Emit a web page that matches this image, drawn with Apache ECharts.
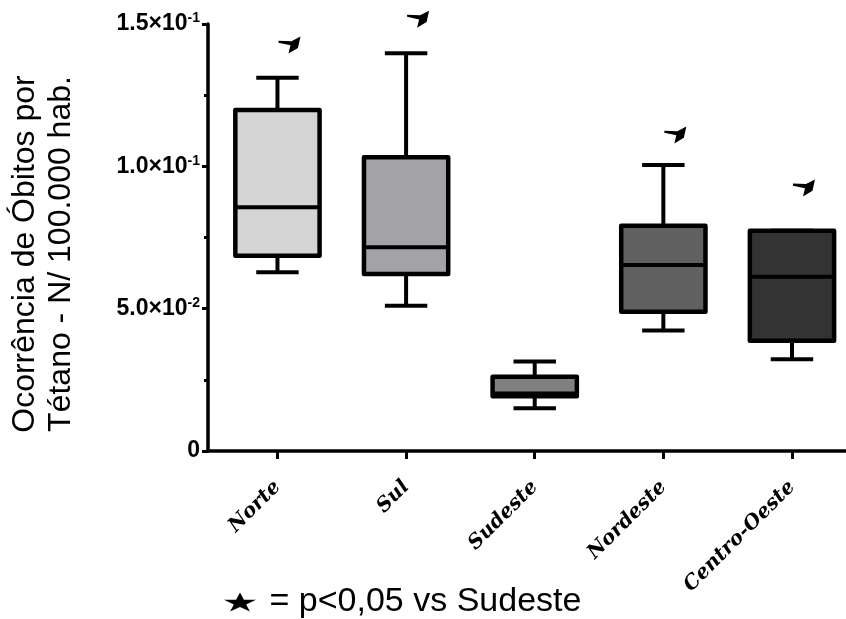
<!DOCTYPE html>
<html>
<head>
<meta charset="utf-8">
<script src="https://cdn.jsdelivr.net/npm/echarts@6/dist/echarts.min.js"></script>
<style>html,body{margin:0;padding:0;background:#fff;}#c{width:846px;height:619px;}</style>
</head>
<body>
<div id="c"></div>
<script>
const categories = ['Norte', 'Sul', 'Sudeste', 'Nordeste', 'Centro-Oeste'];
const minValues    = [0.0628, 0.0510, 0.0150, 0.0423, 0.0322];
const q1Values     = [0.0686, 0.0622, 0.0192, 0.0489, 0.0387];
const medianValues = [0.0856, 0.0716, 0.0202, 0.0653, 0.0612];
const q3Values     = [0.1198, 0.1032, 0.0261, 0.0791, 0.0774];
const maxValues    = [0.1311, 0.1397, 0.0314, 0.1005, 0.0774];
const starValues   = [0.1426, 0.1517, null, 0.1110, 0.0924];
const yTickValues  = [0, 0.05, 0.1, 0.15];
const yTickLabels  = ['{n|0}', '{n|5.0×10}{s|-2}', '{n|1.0×10}{s|-1}', '{n|1.5×10}{s|-1}'];
const legendText   = '= p<0,05 vs Sudeste';
const yTitle       = 'Ocorrência de Óbitos por\nTétano - N/ 100.000 hab.';

const boxColors = ['#d4d4d4', '#a3a3a7', '#808080', '#606060', '#333333'];
const starPath = 'path://M0,4 L13,4.5 L22,0 L19.5,11 L10,16.5 L12,8.5 L0,6 Z';
const legendStar = 'path://M80,0 L98.9,35.1 L156.2,35.1 L109.6,56.7 L127,90.5 L80,69.4 L33,90.5 L50.4,56.7 L3.8,35.1 L61.1,35.1 Z';

const boxData = categories.map((c, i) => [i, minValues[i], q1Values[i], medianValues[i], q3Values[i], maxValues[i]]);
const starData = [];
starValues.forEach((v, i) => { if (v !== null) starData.push([i, v]); });

const chart = echarts.init(document.getElementById('c'), null, {renderer: 'canvas'});
const ink = '#000';
const sans = 'Arial, "Liberation Sans", sans-serif';
chart.setOption({
  backgroundColor: '#fff',
  animation: false,
  grid: {left: 208, right: 0, top: 24, bottom: 168, containLabel: false},
  legend: {
    left: 219, top: 580,
    itemWidth: 33, itemHeight: 19, itemGap: 10,
    data: [{name: legendText, icon: legendStar}],
    textStyle: {fontFamily: sans, fontSize: 34, color: ink, padding: [0, 0, 0, 8]},
    selectedMode: false
  },
  xAxis: {
    type: 'value', min: -0.54, max: 4.42,
    splitLine: {show: false},
    axisLine: {show: true, onZero: false, lineStyle: {color: ink, width: 3.5}},
    axisTick: {show: true, customValues: [0, 1, 2, 3, 4], length: 8, lineStyle: {color: ink, width: 3}},
    axisLabel: {
      customValues: [0, 1, 2, 3, 4],
      formatter: v => categories[Math.round(v)],
      rotate: 45, margin: 33,
      fontFamily: 'DejaVu Serif', fontStyle: 'italic', fontWeight: 'bold', fontSize: 20, color: ink
    }
  },
  yAxis: {
    type: 'value', min: 0, max: 0.15, interval: 0.05,
    splitLine: {show: false},
    axisLine: {show: true, onZero: false, lineStyle: {color: ink, width: 3.5}},
    axisTick: {show: true, length: 6, lineStyle: {color: ink, width: 3}},
    minorTick: {show: true, splitNumber: 2, length: 4, lineStyle: {color: ink, width: 3}},
    axisLabel: {
      margin: 8,
      formatter: v => {
        const k = yTickValues.findIndex(t => Math.abs(t - v) < 1e-9);
        return k >= 0 ? yTickLabels[k] : '';
      },
      color: ink,
      rich: {
        n: {fontFamily: sans, fontWeight: 'bold', fontSize: 23, color: ink},
        s: {fontFamily: sans, fontWeight: 'bold', fontSize: 14, color: ink, padding: [0, 0, 11, 0]}
      }
    }
  },
  graphic: [{
    type: 'text', x: 43, y: 254, rotation: Math.PI / 2,
    style: {text: yTitle, font: '32px Arial, "Liberation Sans"', fill: ink, align: 'center', verticalAlign: 'middle', lineHeight: 36}
  }],
  series: [{
    type: 'custom',
    name: 'box',
    data: boxData,
    encode: {x: 0, y: [1, 2, 3, 4, 5]},
    renderItem: (params, api) => {
      const i = api.value(0);
      const xc = api.coord([i, 0])[0];
      const yMin = api.coord([i, api.value(1)])[1];
      const yQ1 = api.coord([i, api.value(2)])[1];
      const yMed = api.coord([i, api.value(3)])[1];
      const yQ3 = api.coord([i, api.value(4)])[1];
      const yMax = api.coord([i, api.value(5)])[1];
      const band = api.size([1, 0])[0];
      const bw = band * 0.655, cw = band * 0.33;
      const ls = {stroke: ink, lineWidth: 4};
      const line = (x1, y1, x2, y2) => ({type: 'line', shape: {x1, y1, x2, y2}, style: ls});
      return {
        type: 'group',
        children: [
          line(xc, yQ3, xc, yMax),
          line(xc - cw / 2, yMax, xc + cw / 2, yMax),
          line(xc, yQ1, xc, yMin),
          line(xc - cw / 2, yMin, xc + cw / 2, yMin),
          {type: 'rect', shape: {x: xc - bw / 2, y: yQ3, width: bw, height: yQ1 - yQ3},
           style: {fill: boxColors[params.dataIndex], stroke: ink, lineWidth: 4.5, lineJoin: 'round'}},
          line(xc - bw / 2, yMed, xc + bw / 2, yMed)
        ]
      };
    }
  }, {
    type: 'scatter',
    name: legendText,
    data: starData,
    clip: false,
    symbol: starPath,
    symbolSize: [22, 17],
    symbolOffset: [12, 0],
    itemStyle: {color: ink, opacity: 1},
    z: 5
  }]
});
</script>
</body>
</html>
